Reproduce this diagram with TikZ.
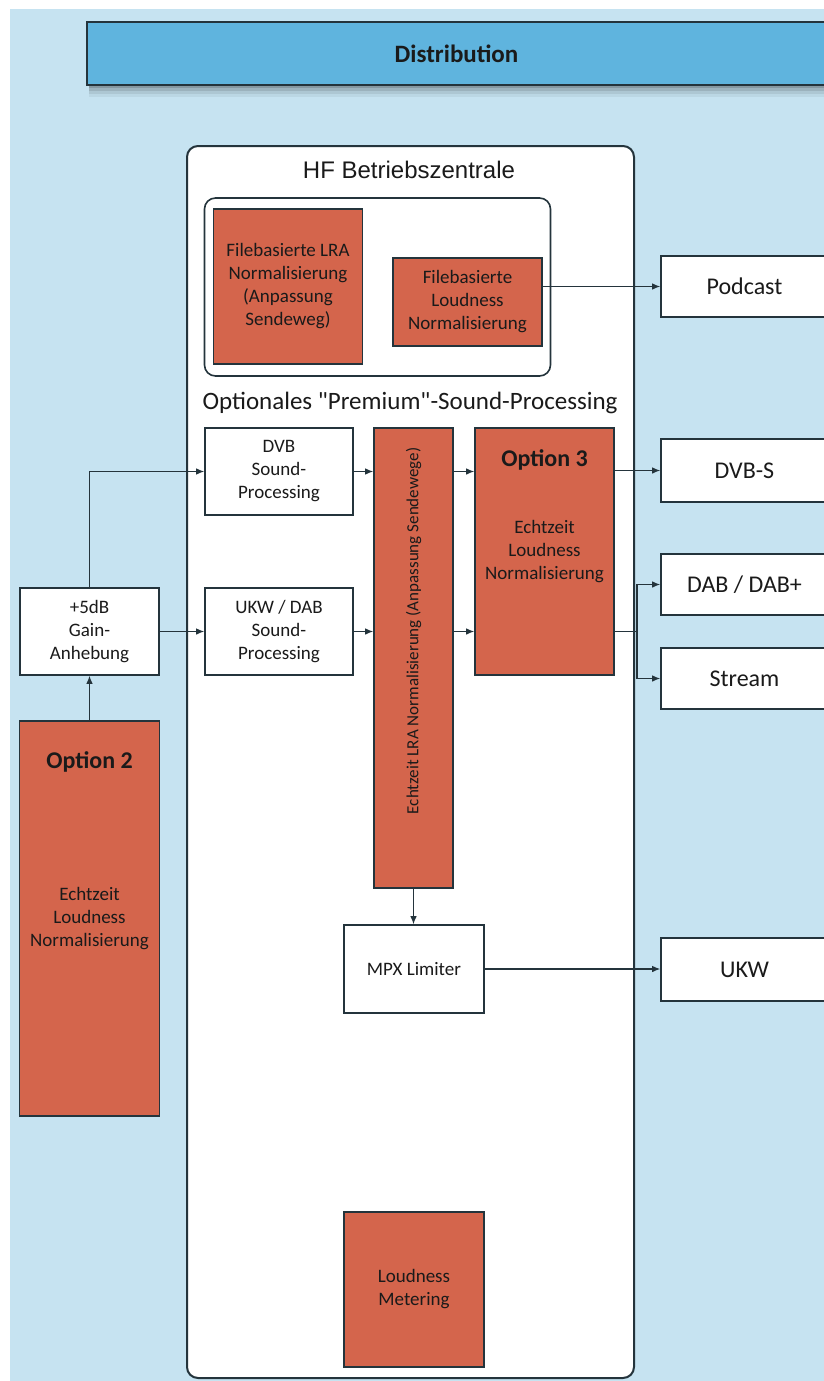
\documentclass[tikz,border=0pt]{standalone}
\usepackage{fontspec}
\setmainfont{Carlito}
\newfontfamily\premf{Carlito}
\newfontfamily\arialf{Liberation Sans}
\usetikzlibrary{arrows.meta,shadows,calc}
\definecolor{bgblue}{HTML}{C6E3F1}
\definecolor{barblue}{HTML}{5FB4DE}
\definecolor{orng}{HTML}{D4654C}
\definecolor{edge}{HTML}{24343C}
\definecolor{txt}{HTML}{1A1A1A}
\begin{document}
\begin{tikzpicture}[x=1pt,y=-1pt,
  wbox/.style={draw=edge, line width=1.6pt, fill=white, inner sep=0pt, align=center, text=txt,
    font=\fontsize{19}{23}\selectfont},
  obox/.style={wbox, fill=orng},
  outbox/.style={wbox, minimum width=167pt, font=\fontsize{24}{28}\selectfont},
  ttl/.style={text=txt, inner sep=0pt, align=center},
  arr/.style={draw=edge, line width=1.1pt, -{Latex[length=8pt,width=6.5pt]}},
  ln/.style={draw=edge, line width=1.1pt}
]
\useasboundingbox (0,0) rectangle (824,1381);
\clip (0,0) rectangle (824,1381);
\fill[white] (0,0) rectangle (824,1381);
\fill[bgblue] (10,9) rectangle (824,1381);

% soft shadow below the Distribution bar
\foreach \d/\o in {12/0.05,9/0.07,6/0.10,3/0.14}{
  \fill[black, opacity=\o] (89,30) rectangle (830,85+\d);
}

% Distribution bar
\node[draw=edge, line width=1.6pt, fill=barblue, minimum width=739pt, minimum height=63pt,
  font=\bfseries\fontsize{25}{30}\selectfont, text=txt] (dist) at (456.5,53.5) {Distribution};

% HF Betriebszentrale
\node[draw=edge, line width=2pt, fill=white, rounded corners=11pt, minimum width=447pt, minimum height=1232pt] (hf) at (410.5,762) {};
\node[ttl, font=\arialf\fontsize{24}{28}\selectfont] (hft) at (409,170) {HF Betriebszentrale};

\node[draw=edge, line width=1.6pt, fill=white, rounded corners=11pt, minimum width=346pt, minimum height=178pt] (inner) at (377.5,287) {};
\node[obox, minimum width=149pt, minimum height=155pt] (flra) at (288,286.5)
  {Filebasierte LRA\\Normalisierung\\(Anpassung\\Sendeweg)};
\node[obox, minimum width=149pt, minimum height=88pt] (floud) at (467.5,302)
  {Filebasierte\\Loudness\\Normalisierung};
\node[outbox, minimum height=61pt] (pod) at (744.5,286.5) {Podcast};

\node[ttl, font=\premf\fontsize{25}{30}\selectfont] (prem) at (410,403) {Optionales "Premium"-Sound-Processing};

\node[wbox, minimum width=148pt, minimum height=87pt] (dvb) at (279,471.5) {DVB\\Sound-\\Processing};
\node[wbox, minimum width=148pt, minimum height=87pt] (ukwdab) at (279,631.5) {UKW / DAB\\Sound-\\Processing};

\node[obox, minimum width=79pt, minimum height=460pt] (lra) at (413.5,658) {};
\node[ttl, rotate=90, font=\fontsize{17}{20}\selectfont] (lrat) at (413.5,631) {Echtzeit LRA Normalisierung (Anpassung Sendewege)};

\node[obox, minimum width=139pt, minimum height=247pt] (o3) at (544.5,551.5) {Echtzeit\\Loudness\\Normalisierung};
\node[ttl, font=\bfseries\fontsize{24}{28}\selectfont] (o3t) at (544.5,460) {Option 3};

\node[outbox, minimum height=63pt] (dvbs) at (744.5,470.5) {DVB-S};
\node[outbox, minimum height=61pt] (dab) at (744.5,584.5) {DAB / DAB+};
\node[outbox, minimum height=61pt] (stream) at (744.5,678.5) {Stream};

\node[wbox, minimum width=139pt, minimum height=87pt] (gain) at (89.5,631.5) {+5dB\\Gain-\\Anhebung};
\node[obox, minimum width=140pt, minimum height=395pt] (o2) at (89.5,918.5) {Echtzeit\\Loudness\\Normalisierung};
\node[ttl, font=\bfseries\fontsize{24}{28}\selectfont] (o2t) at (89.5,762) {Option 2};

\node[wbox, minimum width=140pt, minimum height=88pt] (mpx) at (414,969) {MPX Limiter};
\node[outbox, minimum height=63pt] (ukw) at (744.5,969.5) {UKW};

\node[obox, minimum width=140pt, minimum height=155pt] (meter) at (414,1289.5) {Loudness\\Metering};

% connectors
\draw[arr] (floud.east |- pod.west) -- (pod.west);
\draw[arr] (gain.north) |- (dvb.west);
\draw[arr] (gain.east) -- (ukwdab.west);
\draw[arr] (dvb.east) -- (lra.west |- dvb.east);
\draw[arr] (ukwdab.east) -- (lra.west |- ukwdab.east);
\draw[arr] (lra.east |- dvb.east) -- (o3.west |- dvb.east);
\draw[arr] (lra.east |- ukwdab.east) -- (o3.west |- ukwdab.east);
\draw[arr] (o3.east |- dvbs.west) -- (dvbs.west);
\coordinate (split) at (637,631.5);
\draw[ln] (o3.east |- split) -- (split);
\draw[arr] (split) |- (dab.west);
\draw[arr] (split) |- (stream.west);
\draw[arr] (o2.north) -- (gain.south);
\draw[arr] (lra.south) -- (lra.south |- mpx.north);
\draw[arr] (mpx.east) -- (mpx.east -| ukw.west);
\end{tikzpicture}
\end{document}
